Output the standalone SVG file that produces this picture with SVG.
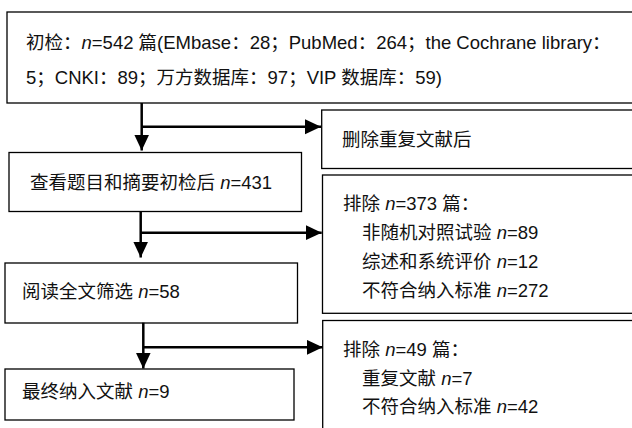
<svg xmlns="http://www.w3.org/2000/svg" width="632" height="428" viewBox="0 0 632 428">
<style>
.box{fill:#fff;stroke:#000;stroke-width:1.3}
.t{font-family:"Liberation Sans","Noto Sans CJK SC",sans-serif;font-size:18.5px;fill:#111}
.i{font-style:italic}
.c{fill:none;stroke:#000;stroke-width:2.5}
</style>
<defs>
<marker id="ah" markerUnits="userSpaceOnUse" markerWidth="17" markerHeight="16" refX="16" refY="7.5" orient="auto" viewBox="0 0 17 16">
<path d="M0,0 L16,7.5 L0,15 Z" fill="#000"/>
</marker>
</defs>
<rect width="632" height="428" fill="#fff"/>
<g id="n1">
<rect class="box" x="7" y="12" width="640" height="91"/>
<text class="t" x="26" y="49">初检：<tspan class="i">n</tspan>=542 篇(EMbase：28；PubMed：264；the Cochrane library：</text>
<text class="t" x="26" y="84">5；CNKI：89；万方数据库：97；VIP 数据库：59)</text>
</g>
<g id="n2">
<rect class="box" x="9" y="152.5" width="292.5" height="59"/>
<text class="t" x="30" y="189">查看题目和摘要初检后 <tspan class="i">n</tspan>=431</text>
</g>
<g id="n3">
<rect class="box" x="5" y="263" width="292.5" height="60"/>
<text class="t" x="22" y="298">阅读全文筛选 <tspan class="i">n</tspan>=58</text>
</g>
<g id="n4">
<rect class="box" x="5" y="369" width="289" height="51"/>
<text class="t" x="22" y="398">最终纳入文献 <tspan class="i">n</tspan>=9</text>
</g>
<g id="r1">
<rect class="box" x="321.7" y="110" width="330" height="58.5"/>
<text class="t" x="342" y="146">删除重复文献后</text>
</g>
<g id="r2">
<rect class="box" x="322.5" y="175" width="330" height="138.3"/>
<text class="t" x="343" y="210">排除 <tspan class="i">n</tspan>=373 篇：</text>
<text class="t" x="362" y="239">非随机对照试验 <tspan class="i">n</tspan>=89</text>
<text class="t" x="362" y="268">综述和系统评价 <tspan class="i">n</tspan>=12</text>
<text class="t" x="362" y="297">不符合纳入标准 <tspan class="i">n</tspan>=272</text>
</g>
<g id="r3">
<rect class="box" x="322.7" y="320.5" width="330" height="130"/>
<text class="t" x="343" y="356">排除 <tspan class="i">n</tspan>=49 篇：</text>
<text class="t" x="362" y="384.5">重复文献 <tspan class="i">n</tspan>=7</text>
<text class="t" x="362" y="413">不符合纳入标准 <tspan class="i">n</tspan>=42</text>
</g>
<g id="connectors">
<path class="c" d="M141.7,103 V150.5" marker-end="url(#ah)"/>
<path class="c" d="M141.7,126.7 H321" marker-end="url(#ah)"/>
<path class="c" d="M140.7,211.5 V257.5" marker-end="url(#ah)"/>
<path class="c" d="M140.7,232.7 H321.7" marker-end="url(#ah)"/>
<path class="c" d="M143.3,322.7 V368.5" marker-end="url(#ah)"/>
<path class="c" d="M143.3,347.3 H322.7" marker-end="url(#ah)"/>
</g>
</svg>
